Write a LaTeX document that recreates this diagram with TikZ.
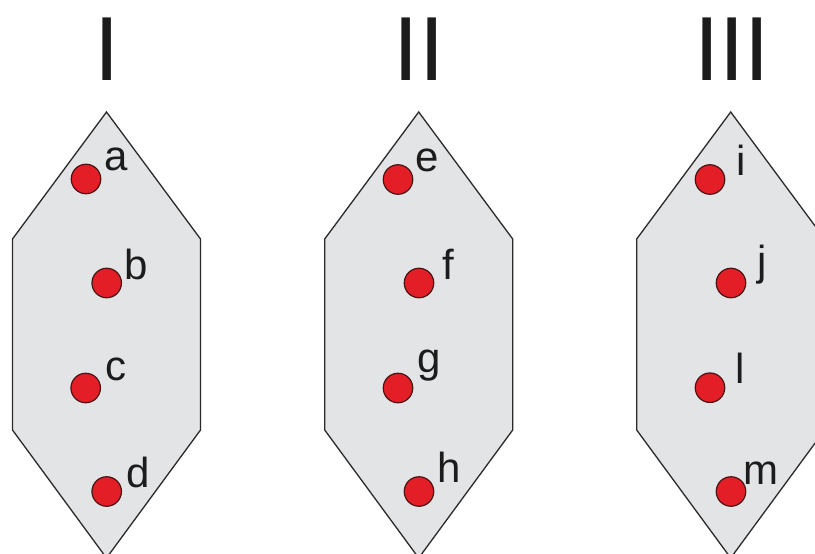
\documentclass[tikz,border=0pt]{standalone}
\usepackage{fontspec}
\setmainfont{Liberation Sans}
\definecolor{hexfill}{HTML}{E3E4E6}
\definecolor{hexline}{HTML}{2A2A2A}
\definecolor{dotred}{HTML}{E41E26}
\definecolor{dotline}{HTML}{4A1414}
\definecolor{ink}{HTML}{1C1C1C}
\tikzset{
  hexshape/.style={fill=hexfill, draw=hexline, line width=1.3pt, line join=miter},
  reddot/.style={circle, fill=dotred, draw=dotline, line width=1.2pt, minimum size=29.5pt, inner sep=0pt},
  lbl/.style={anchor=base west, inner sep=0pt, text=ink, font=\fontsize{42}{42}\selectfont},
  numeral/.style={anchor=base, inner sep=0pt, text=ink, font=\fontsize{91}{91}\selectfont}
}
\begin{document}
\begin{tikzpicture}[x=1pt, y=-1pt]
\path[use as bounding box] (0,0) rectangle (815,554);
\clip (0,0) rectangle (815,554);
\fill[white] (0,0) rectangle (815,554);
% hexagons
\foreach \cx in {106.5, 418.7, 730.7}{
  \draw[hexshape] (\cx,112) -- (\cx+94,239) -- (\cx+94,430) -- (\cx,558)
    -- (\cx-94,430) -- (\cx-94,239) -- cycle;
}
% numerals
\node[numeral] (n1) at (107.5,80.5) {I};
\node[numeral] (n2) at (419,80.5) {II};
\node[numeral] (n3) at (732,80.5) {III};
% dots
\node[reddot] (a) at (86,179) {};
\node[reddot] (b) at (106.7,283) {};
\node[reddot] (c) at (85.7,388) {};
\node[reddot] (d) at (106.7,491.5) {};
\node[reddot] (e) at (398,179.5) {};
\node[reddot] (f) at (419,283) {};
\node[reddot] (g) at (398,388) {};
\node[reddot] (h) at (419,491.5) {};
\node[reddot] (i) at (710,179.5) {};
\node[reddot] (j) at (731,283) {};
\node[reddot] (l) at (710,387.7) {};
\node[reddot] (m) at (731,491.5) {};
% labels
\node[lbl] (la) at (104.5,170) {a};
\node[lbl] (lb) at (124.6,279) {b};
\node[lbl] (lc) at (105.5,380) {c};
\node[lbl] (ld) at (126.5,487) {d};
\node[lbl] (le) at (415.5,171) {e};
\node[lbl] (lf) at (442,279) {f};
\node[lbl] (lg) at (417.5,372) {g};
\node[lbl] (lh) at (437.6,482) {h};
\node[lbl] (li) at (736.3,175) {i};
\node[lbl] (lj) at (757,275) {j};
\node[lbl] (ll) at (735.7,383) {l};
\node[lbl] (lm) at (743,484) {m};
\end{tikzpicture}
\end{document}
